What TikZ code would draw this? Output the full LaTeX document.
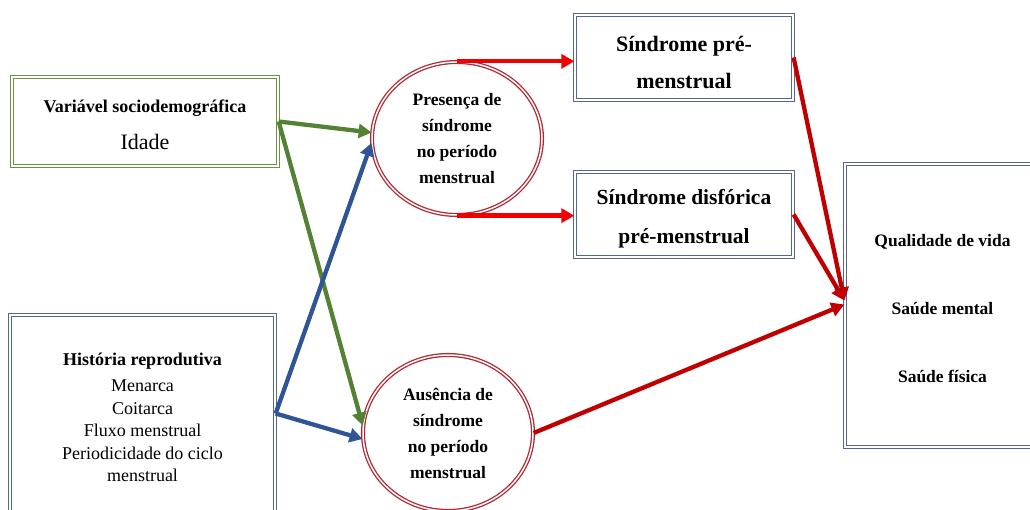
\documentclass[tikz,border=0pt]{standalone}
\usepackage{fontspec}
\setmainfont{Liberation Serif}
\usetikzlibrary{arrows.meta,shapes.geometric}
\definecolor{gbox}{RGB}{108,145,66}
\definecolor{garr}{RGB}{84,130,53}
\definecolor{bbox}{RGB}{84,104,140}
\definecolor{barr}{RGB}{47,85,151}
\definecolor{cred}{RGB}{178,40,50}
\definecolor{rarr}{RGB}{240,0,0}
\definecolor{darr}{RGB}{192,0,0}
\begin{document}
\begin{tikzpicture}[x=1pt,y=-1pt,
  dbox/.style={draw=#1, double=white, double distance=1.6pt, line width=1.3pt,
    rectangle, inner sep=0pt, align=center},
  dell/.style={draw=cred, double=white, double distance=1.5pt, line width=1.3pt,
    ellipse, inner sep=0pt, align=center,
    font=\bfseries\fontsize{17.5}{26}\selectfont},
  arr/.style={line width=4.3pt, draw=#1,
    -{Triangle[length=13pt,width=14pt,fill=#1]}},
]
\useasboundingbox (0,0) rectangle (1030,510);
\clip (0,0) rectangle (1030,510);

\node[dbox=gbox, minimum width=266pt, minimum height=89pt] (v) at (145,121.5)
  {{\fontsize{18}{22}\selectfont\bfseries\rule{0pt}{19pt}Variável sociodemográfica}\\[16pt]
   {\fontsize{22}{26}\selectfont Idade}};

\node[dbox=bbox, minimum width=265pt, minimum height=205pt,
  font=\fontsize{18}{22.5}\selectfont] (h) at (142.5,417.5)
  {{\bfseries História reprodutiva}\\[4pt]
   Menarca\\ Coitarca\\ Fluxo menstrual\\ Periodicidade do ciclo\\ menstrual};

\node[dell, minimum width=170pt, minimum height=153pt] (p) at (457,138.5)
  {Presença de\\ síndrome\\ no período\\ menstrual};

\node[dell, minimum width=170pt, minimum height=156pt] (a) at (448,433)
  {Ausência de\\ síndrome\\ no período\\ menstrual};

\node[dbox=bbox, minimum width=218pt, minimum height=85pt,
  font=\bfseries\fontsize{22}{37}\selectfont] (s1) at (684,57.5)
  {\rule{0pt}{26pt}Síndrome pré-\\ menstrual};

\node[dbox=bbox, minimum width=218pt, minimum height=85pt,
  font=\bfseries\fontsize{21.5}{39}\selectfont] (s2) at (684,214.5)
  {\rule{0pt}{24pt}Síndrome disfórica\\ pré-menstrual};

\node[dbox=bbox, minimum width=195pt, minimum height=283pt,
  font=\bfseries\fontsize{17.5}{68}\selectfont] (q) at (942.5,305.5)
  {\rule{0pt}{18pt}Qualidade de vida\\ Saúde mental\\ Saúde física};

\draw[arr=garr] (v.east) -- (p.176);
\draw[arr=garr] (v.east) -- (a.175);
\draw[arr=barr] ([yshift=4pt]h.east) -- (p.183);
\draw[arr=barr] ([yshift=4pt]h.east) -- (a.184);

\draw[arr=rarr] (p.north) -- (p.north -| s1.west);
\draw[arr=rarr] (p.south) -- (p.south -| s2.west);

\draw[arr=darr] (s1.east) -- ([yshift=5pt]q.west);
\draw[arr=darr] (s2.east) -- ([yshift=5pt]q.west);
\draw[arr=darr] (a.east) -- ([yshift=1pt]q.west);
\end{tikzpicture}
\end{document}
